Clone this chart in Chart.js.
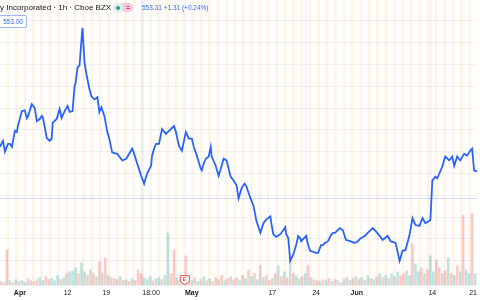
<!DOCTYPE html>
<html>
<head>
<meta charset="utf-8">
<script src="https://cdn.jsdelivr.net/npm/chart.js@4.4.1/dist/chart.umd.min.js"></script>
<style>
  html, body { margin: 0; padding: 0; background: #fff; }
  #wrap { position: relative; width: 480px; height: 300px; overflow: hidden; font-family: "Liberation Sans", Arial, sans-serif; }
  #chart { position: absolute; left: 0; top: 0; }
  .legend { position: absolute; left: 0; top: 3px; font-size: 8px; line-height: 10px; color: #131722; white-space: nowrap; }
  .pill { position: absolute; left: 113px; top: 3px; width: 20px; height: 9px; border-radius: 5px; overflow: hidden; }
  .pill .l { position: absolute; left: 0; top: 0; width: 10px; height: 9px; background: #e3ecea; }
  .pill .l i { position: absolute; left: 3px; top: 2.5px; width: 4px; height: 4px; border-radius: 2px; background: #22a08f; }
  .pill .r { position: absolute; left: 10px; top: 0; width: 10px; height: 9px; background: #f8c9d8; color: #e0457b; font-size: 7px; line-height: 9px; text-align: center; font-weight: bold; }
  .quote { position: absolute; left: 142px; top: 4px; font-size: 6.5px; line-height: 8px; color: #3a68f5; white-space: nowrap; }
  .plabel { position: absolute; left: -1px; top: 15px; height: 11px; padding: 0 3px 0 3px; border: 1px solid #9fb5fa; border-radius: 2px; background: #fff; color: #3a68f5; font-size: 6.5px; line-height: 11px; }
</style>
</head>
<body>
<div id="wrap">
  <canvas id="chart" width="480" height="300"></canvas>
  <div class="legend">y Incorporated · 1h · Cboe BZX</div>
  <div class="pill"><div class="l"><i></i></div><div class="r">=</div></div>
  <div class="quote">553.31 +1.31 (+0.24%)</div>
  <div class="plabel">553.00</div>
</div>
<script>
// hourly bars (index from start of range) and closing prices
const bars = [0,3,5,8,10,12,15,17,18,22,25,27,28,32,35,37,40,42,43,45,47,50,52,53,57,60,62,65,68,70,73,75,76,78,80,82,83,84,85,87,88,90,92,95,98,100,102,105,108,110,112,113,118,120,123,127,133,135,138,142,145,148,152,153,155,157,160,163,167,170,175,177,180,183,187,190,193,195,198,202,203,205,207,210,212,213,217,220,223,225,228,232,235,238,240,243,246,248,252,255,258,262,265,268,272,273,275,278,282,285,287,288,290,292,295,298,300,302,303,308,310,312,318,320,323,325,327,330,333,335,337,342,345,348,352,357,360,363,367,370,375,378,382,385,390,393,398,402,405,408,412,415,418,422,425,428,433,435,438,440,445,448,452,455,457,460,463,467,470,473,475,477,480];
const prices = [561.1,562.5,560.0,561.8,561.8,561.1,564.8,564.5,565.9,569.3,569.5,567.7,568.0,570.9,570.0,567.0,567.5,568.2,568.0,565.7,563.2,562.5,563.0,566.6,567.5,569.8,567.7,569.3,570.5,569.1,569.3,575.0,575.7,579.3,579.8,585.7,588.4,584.5,580.5,577.7,576.6,574.3,572.7,572.0,572.5,569.1,570.2,568.2,564.5,563.0,560.7,559.8,559.5,558.9,558.0,558.4,560.7,559.5,557.3,554.5,552.7,555.0,556.8,559.1,560.7,561.8,561.8,565.2,564.1,564.8,565.9,564.5,561.4,560.2,564.5,563.0,563.0,561.1,559.1,556.1,555.7,557.3,558.4,558.9,561.1,558.9,556.8,554.5,556.8,558.4,558.0,554.3,553.4,552.3,549.3,551.6,552.7,552.0,549.3,547.7,544.1,541.4,543.6,544.5,545.2,543.6,541.1,540.5,541.1,542.0,542.7,541.1,540.2,535.0,536.4,538.6,540.7,540.2,539.5,540.7,538.6,537.3,536.8,536.8,538.6,538.6,539.1,539.5,540.9,541.4,541.4,542.5,542.0,539.8,539.5,539.1,539.5,540.2,540.7,541.4,542.5,541.8,540.7,539.8,540.7,539.5,539.1,535.0,537.3,537.5,540.9,544.8,543.2,543.0,544.8,543.6,544.3,553.4,554.3,553.9,556.6,558.9,558.0,558.9,556.8,558.9,558.0,559.5,559.1,560.2,560.7,555.7,555.5];

// volume (thousand shares), one bar every 3 hours starting at bar 1; 1 = up, 0 = down
const volumes = [20,15,180,25,15,30,20,25,15,35,25,20,30,40,25,45,30,35,25,50,30,40,60,70,75,90,60,115,70,50,80,60,45,120,65,140,50,40,35,30,45,25,30,20,35,25,80,60,40,30,45,25,35,40,30,50,265,60,180,40,30,50,150,35,25,40,20,30,45,25,35,20,40,30,50,25,35,45,30,40,25,50,35,80,45,60,30,100,40,50,25,35,60,100,45,70,40,125,60,50,35,45,60,100,40,30,25,20,30,25,35,20,30,25,15,30,40,25,35,45,30,40,25,50,35,30,45,60,40,50,35,60,45,70,50,60,75,50,210,110,70,90,60,80,150,70,130,90,60,75,140,60,50,100,70,355,80,60,365,60];
const volUp = [0,1,0,1,0,1,0,1,1,0,1,0,0,1,1,0,0,1,1,1,0,1,0,1,1,1,0,1,1,0,1,0,1,0,1,0,1,0,1,0,1,0,1,0,1,0,0,0,1,1,1,0,1,1,0,1,1,0,0,1,0,1,0,0,1,0,1,0,1,0,1,0,0,1,0,1,0,1,0,0,1,0,1,0,1,0,1,0,1,0,0,1,0,1,0,1,0,1,0,1,1,0,1,0,1,0,0,1,0,1,0,1,0,1,0,1,0,1,0,1,0,1,0,1,0,1,0,1,0,1,0,1,0,1,0,0,1,1,0,1,1,0,1,0,1,1,0,0,1,0,1,0,1,0,1,0,1,1,0,1];

// time axis labels
const tickBars = [20, 68, 107, 152, 193, 274, 318, 359, 435, 476];
const tickLabels = ['Apr', '12', '19', '18:00', 'May', '17', '24', 'Jun', '14', '21'];
const monthLabels = ['Apr', 'May', 'Jun'];

// price grid levels and previous close line
const priceGrid = [535, 540, 545, 550, 555, 560, 565, 570, 575, 580, 585, 590];
const prevClose = 549.3;
const earningsBar = 186;
const markerBars = [143, 308, 433];

const firstBreak = 8;
const sessionBars = 8.45;

const volData = volumes.map((v, i) => ({ x: 1 + i * 3, y: v }));
const volColors = volUp.map(u => u ? 'rgba(38,166,154,0.3)' : 'rgba(239,83,80,0.3)');

const backdrop = {
  id: 'backdrop',
  beforeDatasetsDraw(chart) {
    const { ctx, chartArea: a, scales: { x, y } } = chart;
    ctx.save();
    ctx.fillStyle = 'rgba(255,152,0,0.1)';
    for (let b = firstBreak; b < x.max; b += sessionBars) {
      const px = x.getPixelForValue(b);
      ctx.fillRect(px - 1.3, a.top, 2.6, a.bottom - a.top);
    }
    ctx.fillStyle = 'rgba(80,130,255,0.07)';
    markerBars.forEach(b => {
      const px = x.getPixelForValue(b);
      ctx.fillRect(px - 1.5, a.top, 3, a.bottom - a.top);
    });
    // previous close
    const py = Math.round(y.getPixelForValue(prevClose)) + 0.5;
    ctx.strokeStyle = 'rgba(41,98,255,0.22)';
    ctx.lineWidth = 1;
    ctx.beginPath();
    ctx.moveTo(a.left, py);
    ctx.lineTo(a.right, py);
    ctx.stroke();
    ctx.restore();
  },
  afterDatasetsDraw(chart) {
    const { ctx, chartArea: a, scales: { x } } = chart;
    const cx = x.getPixelForValue(earningsBar);
    const top = a.bottom - 11;
    ctx.save();
    ctx.fillStyle = '#fff';
    ctx.strokeStyle = '#f0534f';
    ctx.lineWidth = 1;
    ctx.beginPath();
    ctx.moveTo(cx - 4.5, top + 1);
    ctx.lineTo(cx + 4.5, top + 1);
    ctx.lineTo(cx + 4.5, top + 7);
    ctx.lineTo(cx, top + 10);
    ctx.lineTo(cx - 4.5, top + 7);
    ctx.closePath();
    ctx.fill();
    ctx.stroke();
    ctx.fillStyle = '#f0534f';
    ctx.font = 'bold 6px "Liberation Sans", Arial';
    ctx.textAlign = 'center';
    ctx.textBaseline = 'middle';
    ctx.fillText('E', cx, top + 5);
    ctx.restore();
  }
};

new Chart(document.getElementById('chart'), {
  data: {
    datasets: [
      {
        type: 'line',
        data: bars.map((b, i) => ({ x: b, y: prices[i] })),
        borderColor: '#2962ff',
        borderWidth: 1.8,
        pointRadius: 0,
        tension: 0,
        yAxisID: 'y',
        order: 0
      },
      {
        type: 'bar',
        data: volData,
        backgroundColor: volColors,
        barThickness: 2,
        yAxisID: 'vol',
        order: 1
      }
    ]
  },
  options: {
    responsive: false,
    animation: false,
    layout: { padding: 0 },
    plugins: { legend: { display: false }, tooltip: { enabled: false } },
    scales: {
      x: {
        type: 'linear',
        min: 0,
        max: 480,
        offset: false,
        grid: { display: false, drawTicks: false },
        border: { display: false },
        afterBuildTicks: axis => { axis.ticks = tickBars.map(v => ({ value: v })); },
        ticks: {
          autoSkip: false,
          maxRotation: 0,
          padding: 3,
          color: '#131722',
          font: ctx => ({
            family: '"Liberation Sans", Arial, sans-serif',
            size: 7,
            weight: ctx.tick && monthLabels.includes(tickLabels[tickBars.indexOf(ctx.tick.value)]) ? 'bold' : 'normal'
          }),
          callback: v => tickLabels[tickBars.indexOf(v)]
        }
      },
      y: {
        position: 'right',
        min: 529.32,
        max: 594.77,
        afterBuildTicks: axis => { axis.ticks = priceGrid.map(v => ({ value: v })); },
        ticks: { display: false },
        grid: { color: '#eff1f5', drawTicks: false },
        border: { display: false }
      },
      vol: {
        display: false,
        min: 0,
        max: 1440
      }
    }
  },
  plugins: [backdrop]
});
</script>
</body>
</html>
